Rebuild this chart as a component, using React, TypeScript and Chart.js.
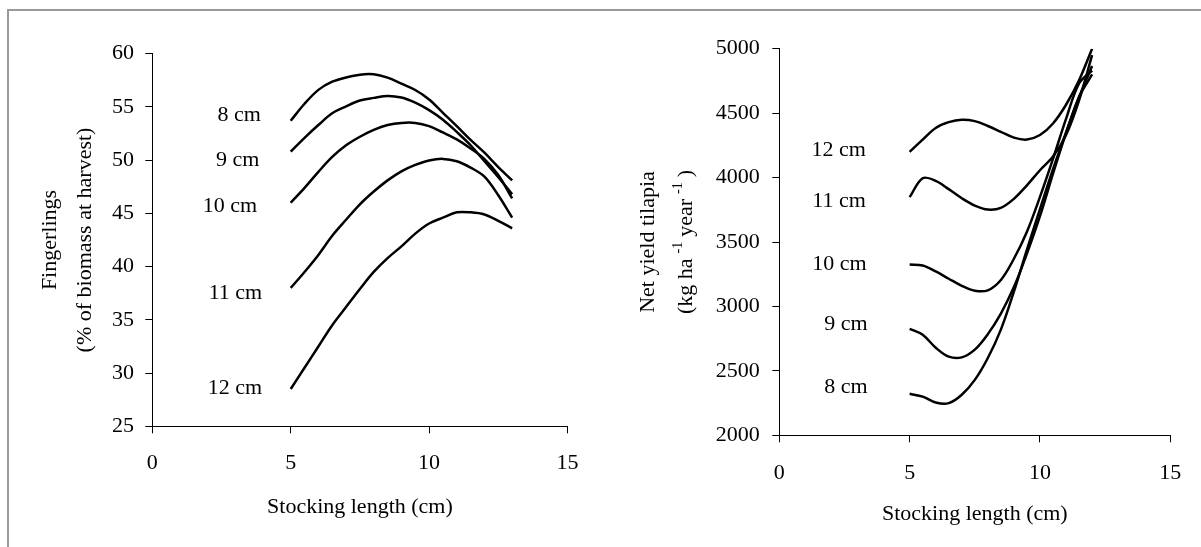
import React, { useEffect, useRef } from "react";
import { Chart, registerables } from "chart.js";

Chart.register(...registerables);

const FONT = "'Liberation Serif', 'Times New Roman', serif";

// ---------- Left chart: Fingerlings (% of biomass at harvest) ----------
const fingerX = [5, 5.5, 6, 6.5, 7, 7.5, 8, 8.5, 9, 9.5, 10, 10.5, 11, 11.5, 12, 12.5, 13];
const finger8 = [53.7, 55.3, 56.6, 57.37, 57.77, 58.03, 58.06, 57.75, 57.18, 56.59, 55.7, 54.45, 53.2, 51.9, 50.7, 49.35, 48.1];
const finger9 = [50.8, 52.1, 53.3, 54.4, 55.05, 55.6, 55.85, 56.03, 55.88, 55.4, 54.7, 53.8, 52.65, 51.4, 49.9, 48.4, 46.8];
const finger10 = [46.0, 47.4, 48.9, 50.3, 51.4, 52.2, 52.85, 53.3, 53.5, 53.5, 53.2, 52.6, 51.95, 51.1, 50.1, 48.6, 46.4];
const finger11 = [38.0, 39.5, 41.1, 42.9, 44.4, 45.85, 47.05, 48.1, 48.95, 49.55, 49.97, 50.12, 49.9, 49.3, 48.45, 46.7, 44.6];
const finger12 = [28.5, 30.5, 32.5, 34.5, 36.2, 37.9, 39.5, 40.8, 41.9, 43.1, 44.05, 44.6, 45.1, 45.1, 44.9, 44.3, 43.6];
const fingerSeries = [finger8, finger9, finger10, finger11, finger12];
const seriesNames = ["8 cm", "9 cm", "10 cm", "11 cm", "12 cm"];
const fingerLabelX = [3.92, 3.87, 3.79, 3.97, 3.97];
const fingerLabelY = [54.24, 50.01, 45.63, 37.49, 28.57];
const fingerYTitle = ["Fingerlings", "(% of biomass at harvest)"];

// ---------- Right chart: Net yield tilapia ----------
const yieldX = [5, 5.5, 6, 6.5, 7, 7.5, 8, 8.5, 9, 9.5, 10, 10.5, 11, 11.5, 12];
const yield8 = [2322, 2300, 2255, 2250, 2315, 2430, 2600, 2820, 3115, 3440, 3755, 4065, 4350, 4625, 4865];
const yield9 = [2826, 2780, 2680, 2610, 2605, 2665, 2785, 2945, 3150, 3410, 3700, 4030, 4345, 4625, 4800];
const yield10 = [3325, 3318, 3272, 3215, 3160, 3122, 3125, 3205, 3370, 3580, 3850, 4145, 4455, 4730, 4830];
const yield11 = [3848, 3995, 3975, 3910, 3840, 3783, 3752, 3765, 3835, 3940, 4057, 4163, 4330, 4600, 4950];
const yield12 = [4200, 4295, 4385, 4430, 4449, 4438, 4400, 4355, 4310, 4295, 4330, 4420, 4565, 4755, 5000];
const yieldSeries = [yield8, yield9, yield10, yield11, yield12];
const yieldLabelX = [3.39, 3.39, 3.35, 3.32, 3.32];
const yieldLabelY = [2376, 2863, 3329, 3820, 4213];

const xTitle = "Stocking length (cm)";

type Seg = { text: string; sup?: boolean };

const curveLabelPlugin = {
  id: "curveLabels",
  afterDatasetsDraw(chart: any, _args: any, opts: any) {
    const { ctx, scales } = chart;
    ctx.save();
    ctx.font = `22px ${FONT}`;
    ctx.fillStyle = "#000";
    ctx.textAlign = "right";
    ctx.textBaseline = "middle";
    opts.texts.forEach((t: string, i: number) => {
      ctx.fillText(t, scales.x.getPixelForValue(opts.xs[i]), scales.y.getPixelForValue(opts.ys[i]));
    });
    ctx.restore();
  },
};

const yTitlePlugin = {
  id: "yTitle",
  afterDraw(chart: any, _args: any, opts: any) {
    const { ctx, chartArea } = chart;
    const cy = (chartArea.top + chartArea.bottom) / 2;
    const gap = opts.gap || 0;
    ctx.save();
    ctx.fillStyle = "#000";
    ctx.textBaseline = "middle";
    ctx.textAlign = "left";
    (opts.lines as Seg[][]).forEach((segs, li) => {
      const widths = segs.map((s) => {
        ctx.font = s.sup ? `14px ${FONT}` : `22px ${FONT}`;
        return ctx.measureText(s.text).width;
      });
      const total = widths.reduce((a, b) => a + b, 0) + gap * (segs.length - 1);
      ctx.save();
      ctx.translate(opts.xs[li], cy);
      ctx.rotate(-Math.PI / 2);
      let pos = -total / 2;
      segs.forEach((s, si) => {
        ctx.font = s.sup ? `14px ${FONT}` : `22px ${FONT}`;
        ctx.fillText(s.text, pos, s.sup ? -8 : 0);
        pos += widths[si] + gap;
      });
      ctx.restore();
    });
    ctx.restore();
  },
};

function makeConfig(p: {
  xs: number[];
  series: number[][];
  yMin: number;
  yMax: number;
  yStep: number;
  pad: { left: number; top: number; right: number; bottom: number };
  yWidth: number;
  xHeight: number;
  xTickPad: number;
  yTickPad: number;
  xTitlePad: number;
  labels: { texts: string[]; xs: number[]; ys: number[] };
  yTitle: { lines: Seg[][]; xs: number[]; gap: number };
}): any {
  return {
    type: "line",
    data: {
      datasets: p.series.map((vals, i) => ({
        label: seriesNames[i],
        data: p.xs.map((x, j) => ({ x, y: vals[j] })),
        borderColor: "#000",
        borderWidth: 2.5,
        pointRadius: 0,
        fill: false,
        tension: 0.35,
      })),
    },
    options: {
      responsive: false,
      animation: false,
      events: [],
      layout: { padding: p.pad },
      scales: {
        x: {
          type: "linear",
          min: 0,
          max: 15,
          ticks: {
            stepSize: 5,
            color: "#000",
            font: { family: FONT, size: 22 },
            padding: p.xTickPad,
            maxRotation: 0,
            callback: (v: any) => String(v),
          },
          grid: { drawOnChartArea: false, drawTicks: true, tickLength: 7, color: "#000", lineWidth: 1 },
          border: { display: true, color: "#000", width: 1 },
          title: {
            display: true,
            text: xTitle,
            color: "#000",
            font: { family: FONT, size: 22, lineHeight: 1.2 },
            padding: { top: 0, bottom: p.xTitlePad },
          },
          afterFit: (s: any) => {
            s.height = p.xHeight;
          },
        },
        y: {
          type: "linear",
          min: p.yMin,
          max: p.yMax,
          ticks: {
            stepSize: p.yStep,
            color: "#000",
            font: { family: FONT, size: 22 },
            padding: p.yTickPad,
            callback: (v: any) => String(v),
          },
          grid: { drawOnChartArea: false, drawTicks: true, tickLength: 7, color: "#000", lineWidth: 1 },
          border: { display: true, color: "#000", width: 1 },
          title: { display: false },
          afterFit: (s: any) => {
            s.width = p.yWidth;
          },
        },
      },
      plugins: {
        legend: { display: false },
        tooltip: { enabled: false },
        curveLabels: p.labels,
        yTitle: p.yTitle,
      },
    },
    plugins: [curveLabelPlugin, yTitlePlugin],
  };
}

function ChartCanvas({ config, left, width, height }: { config: any; left: number; width: number; height: number }) {
  const ref = useRef<HTMLCanvasElement | null>(null);
  useEffect(() => {
    if (!ref.current) return;
    const chart = new Chart(ref.current, config);
    return () => chart.destroy();
  }, []);
  return (
    <canvas
      ref={ref}
      width={width}
      height={height}
      style={{ position: "absolute", left, top: 0, width, height }}
    />
  );
}

export default function App() {
  const leftConfig = makeConfig({
    xs: fingerX,
    series: fingerSeries,
    yMin: 25,
    yMax: 60,
    yStep: 5,
    pad: { left: 0, top: 53.7, right: 32.5, bottom: 0 },
    yWidth: 152.3,
    xHeight: 120.7,
    xTickPad: 16.8,
    yTickPad: 11.3,
    xTitlePad: 26.1,
    labels: { texts: seriesNames, xs: fingerLabelX, ys: fingerLabelY },
    yTitle: {
      lines: [[{ text: fingerYTitle[0] }], [{ text: fingerYTitle[1] }]],
      xs: [50.1, 85.7],
      gap: 0,
    },
  });
  const rightConfig = makeConfig({
    xs: yieldX,
    series: yieldSeries,
    yMin: 2000,
    yMax: 5000,
    yStep: 500,
    pad: { left: 0, top: 48.7, right: 30.7, bottom: 0 },
    yWidth: 179.3,
    xHeight: 111.7,
    xTickPad: 17.8,
    yTickPad: 12.5,
    xTitlePad: 19.1,
    labels: { texts: seriesNames, xs: yieldLabelX, ys: yieldLabelY },
    yTitle: {
      lines: [
        [{ text: "Net yield tilapia" }],
        [
          { text: "(kg ha" },
          { text: "-1", sup: true },
          { text: "year" },
          { text: "-1", sup: true },
          { text: ")" },
        ],
      ],
      xs: [48, 86.4],
      gap: 5,
    },
  });

  return (
    <div
      style={{
        position: "fixed",
        left: 0,
        top: 0,
        width: 1201,
        height: 547,
        overflow: "hidden",
        background: "#fff",
      }}
    >
      <div
        style={{
          position: "absolute",
          left: 7,
          top: 9,
          width: 1400,
          height: 800,
          borderLeft: "2px solid #999",
          borderTop: "2px solid #999",
        }}
      />
      <ChartCanvas config={leftConfig} left={0} width={600} height={547} />
      <ChartCanvas config={rightConfig} left={600} width={601} height={547} />
    </div>
  );
}
